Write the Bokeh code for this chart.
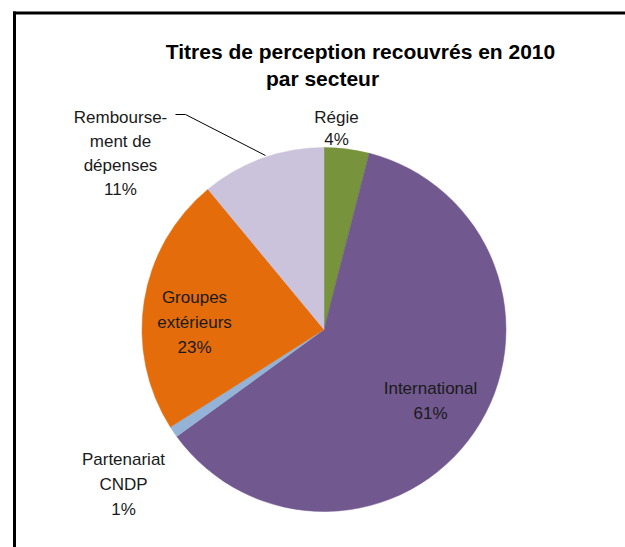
import math
from bokeh.plotting import figure
from bokeh.models import Range1d, ColumnDataSource
from bokeh.core.properties import value
from bokeh.embed import file_html
from bokeh.resources import INLINE

# ---- data ----
categories = ["Régie", "International", "Partenariat CNDP", "Groupes extérieurs", "Remboursement de dépenses"]
shares = [4, 61, 1, 23, 11]
colors = ["#77933C", "#71588F", "#95B3D7", "#E46C0A", "#CBC2DB"]
label_lines = [["Régie", "4%"], ["International", "61%"], ["Partenariat", "CNDP", "1%"],
               ["Groupes", "extérieurs", "23%"], ["Rembourse-", "ment de", "dépenses", "11%"]]
title_lines = ["Titres de perception recouvrés en 2010", "par secteur"]

W, H = 625, 547
FONT = "Liberation Sans"

def fx(px):
    return px

def fy(py):
    return H - py

p = figure(width=W, height=H, output_backend="svg", toolbar_location=None,
           x_range=Range1d(0, W), y_range=Range1d(0, H), min_border=0)
p.axis.visible = False
p.grid.visible = False
p.outline_line_color = None
p.background_fill_color = "white"
p.border_fill_color = None

# frame lines (left and top), drawn as thin filled strips
p.quad(left=[fx(12.5), fx(12.5)], right=[fx(15.5), fx(W)], top=[fy(11), fy(11)],
       bottom=[fy(H), fy(14)], fill_color="black", line_color=None)

# pie
total = sum(shares)
cum = 0
starts, ends = [], []
for s in shares:
    a0 = cum / total
    cum += s
    a1 = cum / total
    starts.append(math.pi / 2 - 2 * math.pi * a1)
    ends.append(math.pi / 2 - 2 * math.pi * a0)
src = ColumnDataSource(dict(start=starts, end=ends, color=colors, cat=categories))
cx, cy, R = fx(323.5), fy(329), 182
p.wedge(x=cx, y=cy, radius=R, radius_units="screen", start_angle="start", end_angle="end",
        direction="anticlock", fill_color="color", line_color="color", line_width=0.5, source=src)

# leader line for Remboursement
p.line(x=[fx(175), fx(185), fx(265)], y=[fy(114), fy(114), fy(155)], line_color="black", line_width=1)

# labels: (center x, first baseline, spacing)
label_pos = [(336, 117, 22), (430, 388, 25), (123, 459, 25), (194, 297, 25), (120, 117, 24)]
for lines, (lx, ly, sp) in zip(label_lines, label_pos):
    xs = [fx(lx)] * len(lines)
    ys = [fy(ly + i * sp) for i in range(len(lines))]
    p.text(x=xs, y=ys, text=lines, text_align="center", text_baseline="alphabetic",
           text_font=value(FONT), text_font_size="17px", text_color="#1a1a1a")

# title
p.text(x=[fx(360), fx(322)], y=[fy(51), fy(78)], text=title_lines, text_align="center",
       text_baseline="alphabetic", text_font=value(FONT), text_font_style="bold",
       text_font_size="21px", text_color="black")

open("out.html", "w").write(file_html(p, INLINE))
